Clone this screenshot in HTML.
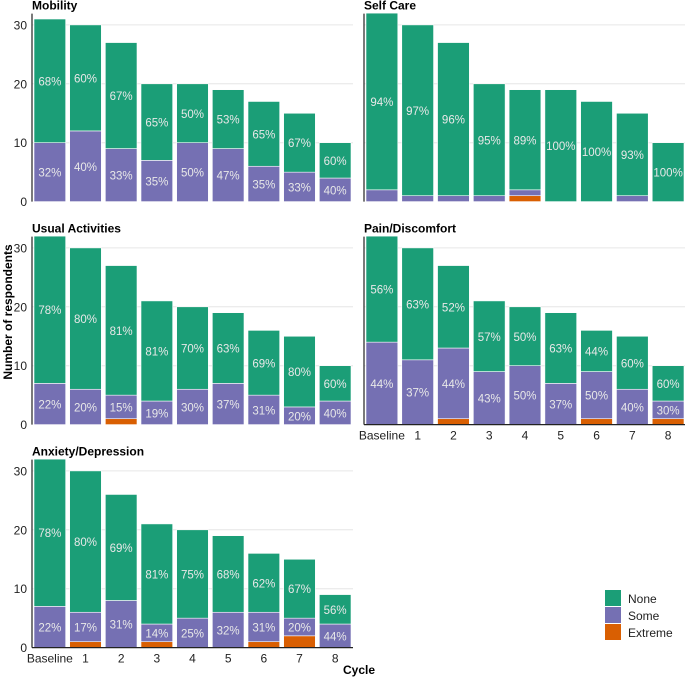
<!DOCTYPE html>
<html><head><meta charset="utf-8"><style>
body{margin:0;background:#fff;font-family:"Liberation Sans",Arial,sans-serif}
svg text{font-family:"Liberation Sans",Arial,sans-serif}
</style></head><body>
<svg id="c" width="685" height="678" xmlns="http://www.w3.org/2000/svg"></svg>
<script>
const categories=["Baseline","1","2","3","4","5","6","7","8"];
const panelTitles=["Mobility","Self Care","Usual Activities","Pain/Discomfort","Anxiety/Depression"];
const noneCounts=[[21,18,18,13,10,10,11,10,6],[30,29,26,19,17,19,17,14,10],[25,24,22,17,14,12,11,12,6],[18,19,14,12,10,12,7,9,6],[25,24,18,17,15,13,10,10,5]];
const someCounts=[[10,12,9,7,10,9,6,5,4],[2,1,1,1,1,0,0,1,0],[7,6,4,4,6,7,5,3,4],[14,11,12,9,10,7,8,6,3],[7,5,8,3,5,6,5,3,4]];
const extremeCounts=[[0,0,0,0,0,0,0,0,0],[0,0,0,0,1,0,0,0,0],[0,0,1,0,0,0,0,0,0],[0,0,1,0,0,0,1,0,1],[0,1,0,1,0,0,1,2,0]];
const noneLabels=[["68%","60%","67%","65%","50%","53%","65%","67%","60%"],["94%","97%","96%","95%","89%","100%","100%","93%","100%"],["78%","80%","81%","81%","70%","63%","69%","80%","60%"],["56%","63%","52%","57%","50%","63%","44%","60%","60%"],["78%","80%","69%","81%","75%","68%","62%","67%","56%"]];
const someLabels=[["32%","40%","33%","35%","50%","47%","35%","33%","40%"],[null,null,null,null,null,null,null,null,null],["22%","20%","15%","19%","30%","37%","31%","20%","40%"],["44%","37%","44%","43%","50%","37%","50%","40%","30%"],["22%","17%","31%","14%","25%","32%","31%","20%","44%"]];
const yTicks=[0,10,20,30];
const C={none:"#1b9e77",some:"#7570b3",ext:"#d95f02"};
const svg=document.getElementById('c');
const NS="http://www.w3.org/2000/svg";
function mk(t,a,p){const e=document.createElementNS(NS,t);for(const k in a)e.setAttribute(k,a[k]);(p||svg).appendChild(e);return e;}
const panels=[{x0:32,x1:353,base:201.6,bottomAxis:false},{x0:364,x1:686,base:201.6,bottomAxis:false},{x0:32,x1:353,base:424.6,bottomAxis:false},{x0:364,x1:686,base:424.6,bottomAxis:true},{x0:32,x1:353,base:647.6,bottomAxis:true}];
const pxPer=5.89;
panels.forEach((P,pi)=>{
  const g=mk('g',{});
  
  
  const y=v=>P.base-v*pxPer;
  const step=(P.x1-P.x0)/categories.length;
  const xc=i=>P.x0+step*(i+0.5);
  yTicks.forEach(t=>{
    if(t>0){const l=mk('line',{x1:P.x0,x2:P.x1,y1:y(t),y2:y(t),stroke:"#e6e6e6","stroke-width":1},g);
      }
  });
  if(P.x0<100){yTicks.forEach(t=>{const tx=mk('text',{x:P.x0-5,y:y(t)+4.5,"text-anchor":"end","font-size":12,fill:"#222"},g);tx.textContent=t;
    });}
  const tt=mk('text',{x:P.x0,y:P.base-192,"font-size":12,"font-weight":"bold",fill:"#000"},g);tt.textContent=panelTitles[pi];
  
  const bw=step-4;
  categories.forEach((c,i)=>{
    const e=extremeCounts[pi][i],s=someCounts[pi][i],n=noneCounts[pi][i];
    const segs=[[0,e,C.ext,'extreme'],[e,e+s,C.some,'some'],[e+s,e+s+n,C.none,'none']];
    segs.forEach(sg=>{if(sg[1]>sg[0]){const r=mk('rect',{x:xc(i)-bw/2,y:y(sg[1]),width:bw,height:y(sg[0])-y(sg[1]),fill:sg[2],stroke:"#fff","stroke-width":0.6},g);
      }});
    const lbls=[[someLabels[pi][i],e,e+s],[noneLabels[pi][i],e+s,e+s+n]];
    lbls.forEach(L=>{if(L[0]){const tx=mk('text',{x:xc(i),y:(y(L[1])+y(L[2]))/2+4.5,"text-anchor":"middle","font-size":11.5,fill:"#e8e8e8"},g);tx.textContent=L[0];
      }});
    if(P.bottomAxis){const tx=mk('text',{x:xc(i),y:P.base+15,"text-anchor":"middle","font-size":12,fill:"#222"},g);tx.textContent=c;
      }
  });
  const ax=mk('line',{x1:P.x0,x2:P.x0,y1:P.base-188,y2:P.base,stroke:"#222","stroke-width":1.2},g);
  
  if(P.bottomAxis){const bx=mk('line',{x1:P.x0,x2:P.x1,y1:P.base,y2:P.base,stroke:"#222","stroke-width":1.2},g);
    }
});
const yt=mk('text',{x:0,y:0,transform:"translate(12,312) rotate(-90)","text-anchor":"middle","font-size":12,"font-weight":"bold"});yt.textContent="Number of respondents";

const xt=mk('text',{x:343,y:674,"font-size":12,"font-weight":"bold"});xt.textContent="Cycle";

const lg=mk('g',{});
[["None",C.none],["Some",C.some],["Extreme",C.ext]].forEach((L,i)=>{
  const r=mk('rect',{x:605,y:590+i*17,width:16,height:16,fill:L[1]},lg);
  
  const t=mk('text',{x:628,y:603+i*17,"font-size":12,fill:"#222"},lg);t.textContent=L[0];
  
});
</script>
</body></html>
